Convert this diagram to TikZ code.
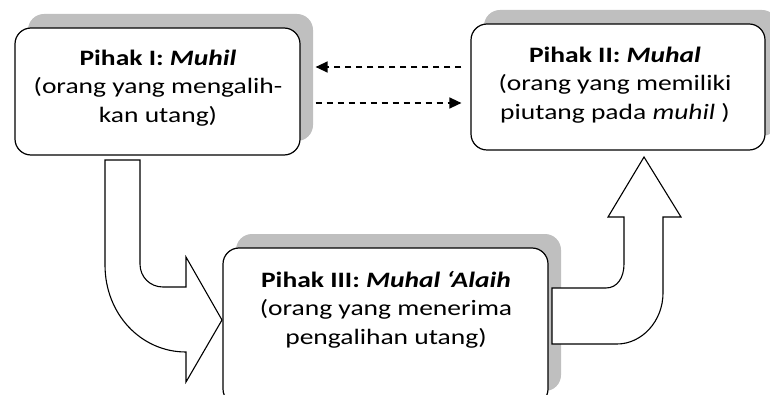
\documentclass[tikz,border=0pt]{standalone}
\usepackage{fontspec}
\setmainfont{Carlito}[FakeStretch=1.25]
\usetikzlibrary{arrows.meta,shadows}
\definecolor{shadowgray}{RGB}{191,191,191}
\begin{document}
\begin{tikzpicture}[x=1pt,y=-1pt,
  party/.style={draw=black, line width=1.2pt, fill=white, rounded corners=16pt,
    drop shadow={shadow xshift=13pt, shadow yshift=14pt, fill=shadowgray, opacity=1}},
  partytext/.style={align=center, inner sep=0pt, font=\fontsize{22}{28.5}\selectfont},
  blockarrow/.style={draw=black, line width=1.1pt, fill=white, line join=miter},
  flow/.style={line width=1.4pt, dash pattern=on 6pt off 5pt,
    -{Triangle[length=12pt,width=11pt]}}]
\useasboundingbox (0,0) rectangle (770,395);
\clip (0,0) rectangle (770,395);

% the three parties
\node[party, minimum width=285pt, minimum height=127pt] (b1) at (157.5,91.5) {};
\node[party, minimum width=294pt, minimum height=126pt] (b2) at (618,87) {};
\node[party, minimum width=325pt, minimum height=157pt] (b3) at (385.5,326.5) {};

\node[partytext, anchor=north] (t1) at (158,45)
  {\rule{0pt}{20pt}\textbf{Pihak I: \textit{Muhil}}\\(orang yang mengalih-\\kan utang)};
\node[partytext, anchor=north] (t2) at (615,42)
  {\rule{0pt}{20pt}\textbf{Pihak II: \textit{Muhal}}\\(orang yang memiliki\\piutang pada \textit{muhil} )};
\node[partytext, anchor=north] (t3) at (386,267)
  {\rule{0pt}{20pt}\textbf{Pihak III: \textit{Muhal ‘Alaih}}\\(orang yang menerima\\pengalihan utang)};

% dashed links between Pihak I and Pihak II
\coordinate (r1) at (0,67);
\coordinate (r2) at (0,103);
\draw[flow, shorten <=9pt, shorten >=15pt] (b2.west |- r1) -- (b1.east |- r1);
\draw[flow, shorten <=15pt, shorten >=9pt] (b1.east |- r2) -- (b2.west |- r2);

% bent block arrow: Pihak I down to Pihak III
\draw[blockarrow] (105,160) -- (140,160) -- (140,264)
  .. controls (140,277) and (150,287) .. (163,287) -- (186,287) -- (186,257)
  -- (222,320) -- (186,382) -- (186,352)
  .. controls (141,352) and (105,314) .. (105,265) -- cycle;

% bent block arrow: Pihak III up to Pihak II
\draw[blockarrow] (552,288) -- (606,288)
  .. controls (617,288) and (624,278) .. (624,264) -- (624,217) -- (608,217)
  -- (644,157) -- (681,217) -- (663,217) -- (663,293)
  .. controls (663,321) and (642,344) .. (617,344) -- (552,344) -- cycle;
\end{tikzpicture}
\end{document}
